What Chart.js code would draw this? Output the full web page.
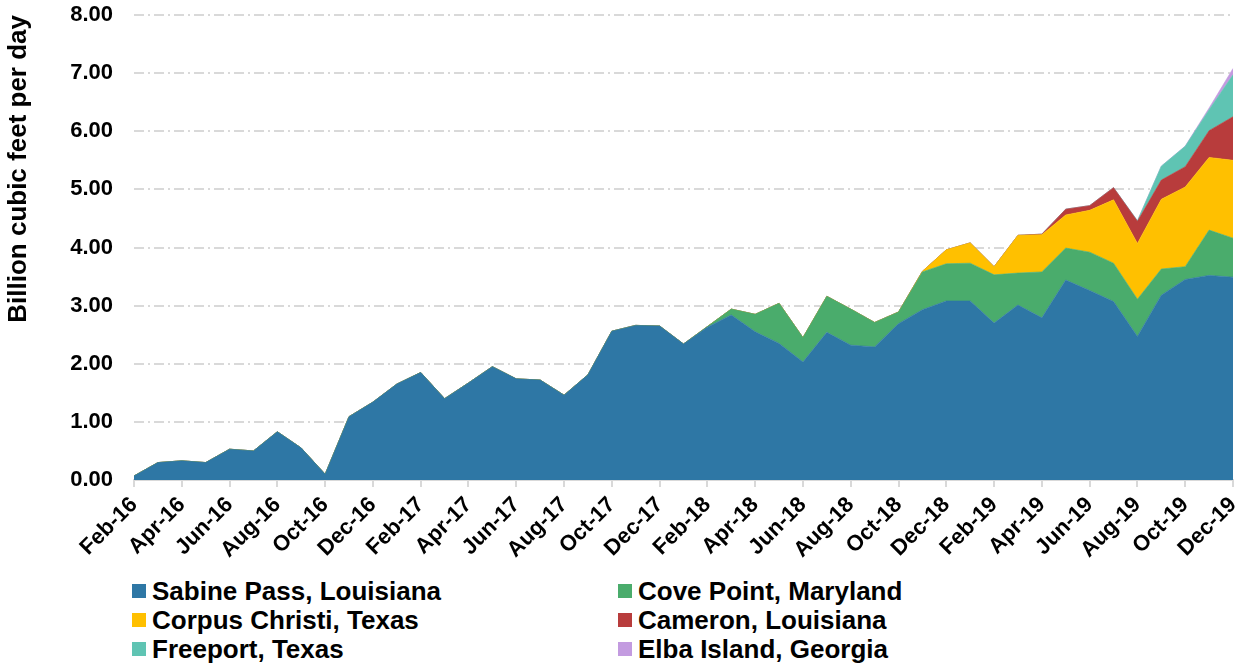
<!DOCTYPE html>
<html>
<head>
<meta charset="utf-8">
<script src="https://cdn.jsdelivr.net/npm/chart.js@4/dist/chart.umd.min.js"></script>
<style>
  html, body { margin: 0; padding: 0; background: #fff; }
  #wrap { position: relative; width: 1250px; height: 665px; }
  #c { position: absolute; left: 0; top: 0; }
  #legend { position: absolute; left: 0; top: 576px; width: 1250px; }
  .item { position: absolute; height: 29px; line-height: 29px; font: bold 26px "Liberation Sans", Arial, sans-serif; color: #000; white-space: nowrap; }
  .sw { position: absolute; left: 0; top: 8px; width: 14px; height: 14px; }
  .lbl { position: absolute; left: 20px; top: 0; }
</style>
</head>
<body>
<div id="wrap">
  <canvas id="c" width="1250" height="570"></canvas>
  <div id="legend"></div>
</div>
<script>
const months = ["Feb-16","Mar-16","Apr-16","May-16","Jun-16","Jul-16","Aug-16","Sep-16","Oct-16","Nov-16","Dec-16",
  "Jan-17","Feb-17","Mar-17","Apr-17","May-17","Jun-17","Jul-17","Aug-17","Sep-17","Oct-17","Nov-17","Dec-17",
  "Jan-18","Feb-18","Mar-18","Apr-18","May-18","Jun-18","Jul-18","Aug-18","Sep-18","Oct-18","Nov-18","Dec-18",
  "Jan-19","Feb-19","Mar-19","Apr-19","May-19","Jun-19","Jul-19","Aug-19","Sep-19","Oct-19","Nov-19","Dec-19"];

const sabinePass = [0.07,0.30,0.33,0.30,0.53,0.50,0.83,0.55,0.10,1.09,1.34,
  1.65,1.85,1.40,1.67,1.95,1.74,1.72,1.46,1.81,2.56,2.66,2.65,
  2.34,2.63,2.84,2.55,2.35,2.03,2.54,2.32,2.29,2.69,2.93,3.08,
  3.08,2.70,3.01,2.79,3.44,3.26,3.07,2.47,3.18,3.45,3.52,3.49];
const covePoint = [0,0,0,0,0,0,0,0,0,0,0,
  0,0,0,0,0,0,0,0,0,0,0,0,
  0,0.01,0.10,0.30,0.69,0.42,0.62,0.62,0.42,0.20,0.65,0.64,
  0.65,0.83,0.55,0.79,0.55,0.66,0.66,0.64,0.45,0.22,0.78,0.67];
const corpusChristi = [0,0,0,0,0,0,0,0,0,0,0,
  0,0,0,0,0,0,0,0,0,0,0,0,
  0,0,0,0,0,0,0,0,0,0,0.01,0.24,
  0.35,0.14,0.65,0.64,0.57,0.72,1.09,0.96,1.20,1.37,1.25,1.34];
const cameron = [0,0,0,0,0,0,0,0,0,0,0,
  0,0,0,0,0,0,0,0,0,0,0,0,
  0,0,0,0,0,0,0,0,0,0,0,0,
  0,0,0,0.01,0.10,0.08,0.21,0.38,0.33,0.35,0.46,0.75];
const freeport = [0,0,0,0,0,0,0,0,0,0,0,
  0,0,0,0,0,0,0,0,0,0,0,0,
  0,0,0,0,0,0,0,0,0,0,0,0,
  0,0,0,0,0,0,0,0.01,0.24,0.35,0.36,0.72];
const elbaIsland = [0,0,0,0,0,0,0,0,0,0,0,
  0,0,0,0,0,0,0,0,0,0,0,0,
  0,0,0,0,0,0,0,0,0,0,0,0,
  0,0,0,0,0,0,0,0,0,0.005,0.03,0.11];

const seriesNames = ["Sabine Pass, Louisiana","Cove Point, Maryland","Corpus Christi, Texas","Cameron, Louisiana","Freeport, Texas","Elba Island, Georgia"];
const seriesData = [sabinePass, covePoint, corpusChristi, cameron, freeport, elbaIsland];
const seriesColors = ["#2e77a5","#4aac6c","#ffc000","#b83c3c","#5fc4b3","#c39be0"];

const yTicks = [0,1,2,3,4,5,6,7,8];
const yTitle = "Billion cubic feet per day";

const FONT = '"Liberation Sans", Arial, sans-serif';

const datasets = seriesNames.map((name, i) => ({
  label: name,
  data: seriesData[i],
  backgroundColor: seriesColors[i],
  borderColor: seriesColors[i],
  borderWidth: 0.6,
  pointRadius: 0,
  pointHoverRadius: 0,
  tension: 0,
  fill: i === 0 ? 'origin' : '-1'
}));

new Chart(document.getElementById('c'), {
  type: 'line',
  data: { labels: months, datasets },
  options: {
    responsive: false,
    animation: false,
    events: [],
    layout: { padding: { top: 15, right: 17, left: 0, bottom: 0 } },
    plugins: { legend: { display: false }, tooltip: { enabled: false } },
    scales: {
      x: {
        offset: false,
        grid: { drawOnChartArea: false, drawTicks: true, tickLength: 7, color: '#d9d9d9', lineWidth: 2 },
        border: { display: true, color: '#d9d9d9', width: 2 },
        ticks: {
          autoSkip: false,
          maxRotation: 45, minRotation: 45,
          padding: 5,
          color: '#000',
          font: { family: FONT, size: 22, weight: 'bold' },
          callback: function(v, i) { return i % 2 === 0 ? months[i] : null; }
        },
        afterFit: s => { s.height = 90; s.paddingRight = 0; }
      },
      y: {
        stacked: true,
        min: yTicks[0], max: yTicks[yTicks.length - 1],
        afterBuildTicks: s => { s.ticks = yTicks.map(v => ({ value: v })); },
        grid: { drawTicks: false, color: '#d9d9d9', lineWidth: 2 },
        border: { display: false, dash: [10, 4, 2, 4] },
        ticks: {
          padding: 21,
          color: '#000',
          font: { family: FONT, size: 22, weight: 'bold' },
          callback: v => Number(v).toFixed(2)
        },
        title: {
          display: true, text: yTitle, align: 'end', color: '#000',
          font: { family: FONT, size: 26, weight: 'bold' },
          padding: { top: 3, bottom: 0 }
        },
        afterFit: s => { s.width = 134; s.paddingTop = 0; s.paddingBottom = 0; }
      }
    }
  }
});

// legend (two columns, row-wise order)
const legend = document.getElementById('legend');
const colX = [132, 618];
seriesNames.forEach((name, i) => {
  const row = Math.floor(i / 2), col = i % 2;
  const d = document.createElement('div');
  d.className = 'item';
  d.style.left = colX[col] + 'px';
  d.style.top = (row * 29) + 'px';
  const sw = document.createElement('span');
  sw.className = 'sw';
  sw.style.background = seriesColors[i];
  const t = document.createElement('span');
  t.className = 'lbl';
  t.textContent = name;
  d.appendChild(sw); d.appendChild(t);
  legend.appendChild(d);
});
</script>
</body>
</html>
